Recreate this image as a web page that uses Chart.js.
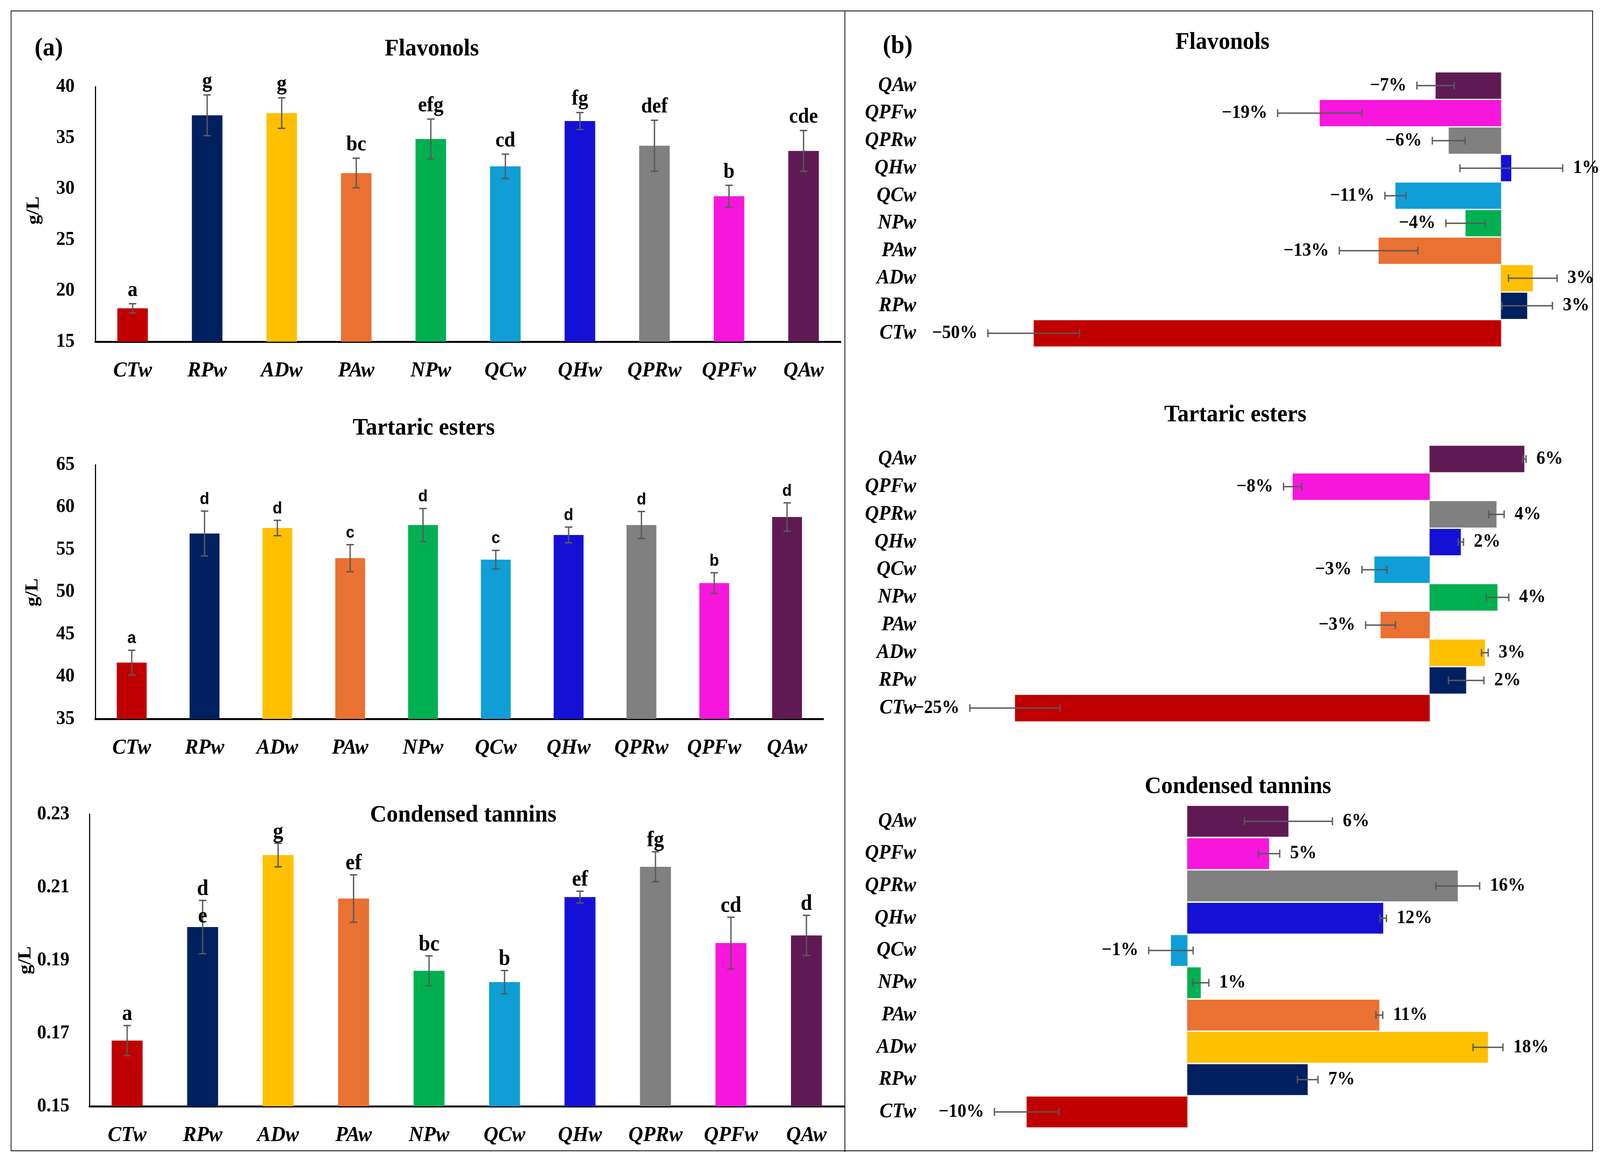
<!DOCTYPE html>
<html>
<head>
<meta charset="utf-8">
<script src="https://cdn.jsdelivr.net/npm/chart.js@4.4.1/dist/chart.umd.min.js"></script>
<style>
  html, body { margin: 0; padding: 0; background: #fff; overflow: hidden; }
  #page { position: relative; width: 4331px; height: 2968px; overflow: hidden; background: #fff; font-family: 'Liberation Serif', serif; transform-origin: 0 0; }
  #page canvas { position: absolute; }
  .t { position: absolute; white-space: nowrap; transform: translate(-50%, -50%); color: #000; font-weight: bold; line-height: 1; }
  .title { font-size: 62px; }
  .panel { font-size: 66px; }
  .unit { font-size: 50px; transform: translate(-50%, -50%) rotate(-90deg); }
  #frame { position: absolute; left: 29px; top: 27px; width: 4283px; height: 2921px; border: 2px solid #000; box-sizing: border-box; }
  #divider { position: absolute; left: 2286px; top: 27px; width: 2px; height: 2923px; background: #000; }
</style>
</head>
<body>
<div id="page">
  <div id="frame"></div>
  <div id="divider"></div>
  <div class="t panel" style="left:132px;top:120px">(a)</div>
  <div class="t panel" style="left:2430px;top:114px">(b)</div>
  <div class="t title" style="left:1169px;top:121px">Flavonols</div>
  <div class="t title" style="left:1147px;top:1092px">Tartaric esters</div>
  <div class="t title" style="left:1254px;top:2083px">Condensed tannins</div>
  <div class="t title" style="left:3309px;top:104px">Flavonols</div>
  <div class="t title" style="left:3344px;top:1058px">Tartaric esters</div>
  <div class="t title" style="left:3351px;top:2010px">Condensed tannins</div>
  <div class="t unit" style="left:88px;top:539px">g/L</div>
  <div class="t unit" style="left:85px;top:1517px">g/L</div>
  <div class="t unit" style="left:66px;top:2459px">g/L</div>
</div>
<script>
const FAMILY = "'Liberation Serif', serif";

const categories = ['CTw', 'RPw', 'ADw', 'PAw', 'NPw', 'QCw', 'QHw', 'QPRw', 'QPFw', 'QAw'];
const barColors = ['#C00000', '#002060', '#FFC000', '#E97132', '#00B050', '#0F9ED5', '#1510D6', '#808080', '#F716DC', '#5F1A54'];

// (a) concentrations, g/L
const flavTicks = [15, 20, 25, 30, 35, 40];
const flavConc = [18.27, 37.2, 37.41, 31.53, 34.87, 32.19, 36.63, 34.21, 29.26, 33.7];
const flavConcErr = [0.45, 2.0, 1.5, 1.45, 1.95, 1.2, 0.83, 2.5, 1.07, 2.0];
const flavLetters = ['a', 'g', 'g', 'bc', 'efg', 'cd', 'fg', 'def', 'b', 'cde'];

const tartTicks = [35, 40, 45, 50, 55, 60, 65];
const tartConc = [41.65, 56.88, 57.53, 53.97, 57.88, 53.79, 56.71, 57.88, 51.03, 58.82];
const tartConcErr = [1.45, 2.65, 0.9, 1.6, 1.95, 1.1, 0.93, 1.6, 1.22, 1.67];
const tartLetters = ['a', 'd', 'd', 'c', 'd', 'c', 'd', 'd', 'b', 'd'];

const condTicks = [0.15, 0.17, 0.19, 0.21, 0.23];
const condConc = [0.168, 0.1991, 0.2188, 0.2069, 0.1871, 0.184, 0.2073, 0.2156, 0.1947, 0.1968];
const condConcErr = [0.0041, 0.0073, 0.0032, 0.0065, 0.0041, 0.0032, 0.0016, 0.0041, 0.0071, 0.0055];
const condLetters = ['a', 'd\ne', 'g', 'ef', 'bc', 'b', 'ef', 'fg', 'cd', 'd'];

// (b) percent change
const flavPct = [-50.0, 2.8, 3.4, -13.1, -3.8, -11.3, 1.1, -5.6, -19.4, -7.0];
const flavPctErr = [4.9, 2.7, 2.6, 4.2, 2.1, 1.13, 5.5, 1.75, 4.5, 2.0];
const flavPctLabels = ['−50%', '3%', '3%', '−13%', '−4%', '−11%', '1%', '−6%', '−19%', '−7%'];

const tartPct = [-25.0, 2.2, 3.33, -2.96, 4.09, -3.33, 1.88, 4.03, -8.26, 5.71];
const tartPctErr = [2.72, 1.07, 0.2, 0.9, 0.68, 0.75, 0.16, 0.46, 0.55, 0.1];
const tartPctLabels = ['−25%', '2%', '3%', '−3%', '4%', '−3%', '2%', '4%', '−8%', '6%'];

const condPct = [-10.0, 7.49, 18.71, 11.95, 0.84, -1.02, 12.19, 16.83, 5.09, 6.29];
const condPctErr = [2.0, 0.64, 0.93, 0.21, 0.5, 1.38, 0.2, 1.36, 0.66, 2.74];
const condPctLabels = ['−10%', '7%', '18%', '11%', '1%', '−1%', '12%', '16%', '5%', '6%'];

// error bars, letters / % labels, zero line
const errorBars = {
  id: 'errorBars',
  beforeDatasetsDraw(chart, args, o) {
    if (!o.zeroLine) return;
    const { ctx, chartArea } = chart;
    const x = chart.scales.x.getPixelForValue(0);
    ctx.save();
    ctx.strokeStyle = '#d9d9d9';
    ctx.lineWidth = 3;
    ctx.beginPath();
    ctx.moveTo(x, chartArea.top);
    ctx.lineTo(x, chartArea.bottom);
    ctx.stroke();
    ctx.restore();
  },
  afterDatasetsDraw(chart, args, o) {
    if (!o.errors) return;
    const horiz = chart.options.indexAxis === 'y';
    const vs = horiz ? chart.scales.x : chart.scales.y;
    const vals = chart.data.datasets[0].data;
    const bars = chart.getDatasetMeta(0).data;
    const ctx = chart.ctx;
    ctx.save();
    ctx.strokeStyle = '#595959';
    ctx.lineWidth = 3.5;
    bars.forEach((bar, i) => {
      const p1 = vs.getPixelForValue(vals[i] - o.errors[i]);
      const p2 = vs.getPixelForValue(vals[i] + o.errors[i]);
      ctx.beginPath();
      if (horiz) {
        const c = bar.y;
        ctx.moveTo(p1, c); ctx.lineTo(p2, c);
        ctx.moveTo(p1, c - 10); ctx.lineTo(p1, c + 10);
        ctx.moveTo(p2, c - 10); ctx.lineTo(p2, c + 10);
      } else {
        const c = bar.x;
        ctx.moveTo(c, p1); ctx.lineTo(c, p2);
        ctx.moveTo(c - 10, p1); ctx.lineTo(c + 10, p1);
        ctx.moveTo(c - 10, p2); ctx.lineTo(c + 10, p2);
      }
      ctx.stroke();
    });
    ctx.fillStyle = '#000';
    ctx.font = o.font;
    bars.forEach((bar, i) => {
      const v = vals[i], e = o.errors[i], txt = o.labels[i];
      if (horiz) {
        const neg = v < 0;
        const end = vs.getPixelForValue(neg ? v - e : v + e);
        ctx.textAlign = neg ? 'right' : 'left';
        ctx.textBaseline = 'middle';
        ctx.fillText(txt, end + (neg ? -o.gap : o.gap), bar.y);
      } else {
        const top = vs.getPixelForValue(v + e);
        ctx.textAlign = 'center';
        ctx.textBaseline = 'alphabetic';
        txt.split('\n').forEach((ln, k) => ctx.fillText(ln, bar.x, top - o.gap + k * 70));
      }
    });
    ctx.restore();
  }
};

// the window may be narrower than the figure: stretch the page to fill it
const page = document.getElementById('page');
const sx = window.innerWidth / 4331, sy = window.innerHeight / 2968;
if (sx !== 1 || sy !== 1) page.style.transform = 'scale(' + sx + ',' + sy + ')';

function addCanvas(box) {
  const c = document.createElement('canvas');
  c.width = box.w; c.height = box.h;
  c.style.left = box.x + 'px'; c.style.top = box.y + 'px';
  c.style.width = box.w + 'px'; c.style.height = box.h + 'px';
  page.appendChild(c);
  return c;
}

function concChart(box, vals, errs, letters, ticks, cfg) {
  return new Chart(addCanvas(box), {
    type: 'bar',
    data: { labels: categories, datasets: [{ data: vals, backgroundColor: barColors, barPercentage: 0.41, categoryPercentage: 1 }] },
    options: {
      responsive: false, animation: false, devicePixelRatio: 1,
      layout: { padding: { top: cfg.padTop, right: cfg.padRight, left: 0, bottom: 0 } },
      plugins: {
        legend: { display: false }, tooltip: { enabled: false },
        errorBars: { errors: errs, labels: letters, font: cfg.letterFont, gap: cfg.gap }
      },
      scales: {
        x: {
          grid: { display: false, drawTicks: false },
          border: { display: true, color: '#000', width: 5 },
          ticks: { color: '#000', font: { family: FAMILY, size: 55, style: 'italic', weight: 'bold' }, padding: 42 },
          afterFit: (s) => { s.height = cfg.xH; }
        },
        y: {
          min: ticks[0], max: ticks[ticks.length - 1],
          grid: { display: false, drawTicks: false },
          border: { display: true, color: '#000', width: 3 },
          afterBuildTicks: (s) => { s.ticks = ticks.map((v) => ({ value: v })); },
          ticks: { color: '#000', font: { family: FAMILY, size: 50, weight: 'bold' }, padding: cfg.tickPad, callback: (v) => cfg.fmt(v) },
          afterFit: (s) => { s.width = cfg.yW; }
        }
      }
    },
    plugins: [errorBars]
  });
}

function pctChart(box, vals, errs, labels, cfg) {
  return new Chart(addCanvas(box), {
    type: 'bar',
    data: { labels: categories, datasets: [{ data: vals, backgroundColor: barColors, barPercentage: 0.955, categoryPercentage: 1 }] },
    options: {
      indexAxis: 'y',
      responsive: false, animation: false, devicePixelRatio: 1,
      layout: { padding: { top: cfg.padTop, bottom: cfg.padBottom, left: 0, right: 0 } },
      plugins: {
        legend: { display: false }, tooltip: { enabled: false },
        errorBars: { errors: errs, labels: labels, font: "bold 48px 'Liberation Serif', serif", gap: 28, zeroLine: true }
      },
      scales: {
        x: { display: false, min: cfg.min, max: cfg.max },
        y: {
          reverse: true,
          grid: { display: false, drawTicks: false },
          border: { display: false },
          ticks: { color: '#000', font: { family: FAMILY, size: 52, style: 'italic', weight: 'bold' }, padding: 20 },
          afterFit: (s) => { s.width = 200; }
        }
      }
    },
    plugins: [errorBars]
  });
}

const serifLetters = "bold 54px 'Liberation Serif', serif";

concChart({ x: 30, y: 30, w: 2255, h: 970 }, flavConc, flavConcErr, flavLetters, flavTicks,
  { padTop: 192, padRight: 9, yW: 228, xH: 125, tickPad: 56, gap: 20, letterFont: serifLetters, fmt: (v) => String(v) });
concChart({ x: 30, y: 1000, w: 2255, h: 970 }, tartConc, tartConcErr, tartLetters, tartTicks,
  { padTop: 190, padRight: 56, yW: 228, xH: 129, tickPad: 56, gap: 18, letterFont: "bold 42px 'Liberation Sans', sans-serif", fmt: (v) => String(v) });
concChart({ x: 30, y: 1970, w: 2256, h: 990 }, condConc, condConcErr, condLetters, condTicks,
  { padTop: 115, padRight: 1, yW: 212, xH: 127, tickPad: 54, gap: 14, letterFont: "bold 56px 'Liberation Serif', serif", fmt: (v) => v.toFixed(2) });

pctChart({ x: 2300, y: 40, w: 2031, h: 900 }, flavPct, flavPctErr, flavPctLabels, { padTop: 144, padBottom: 15, min: -61.78, max: 10.59 });
pctChart({ x: 2300, y: 960, w: 2031, h: 940 }, tartPct, tartPctErr, tartPctLabels, { padTop: 180, padBottom: 24, min: -30.51, max: 10.27 });
pctChart({ x: 2300, y: 1940, w: 2031, h: 1000 }, condPct, condPctErr, condPctLabels, { padTop: 122, padBottom: 44, min: -16.41, max: 25.68 });
</script>
</body>
</html>
